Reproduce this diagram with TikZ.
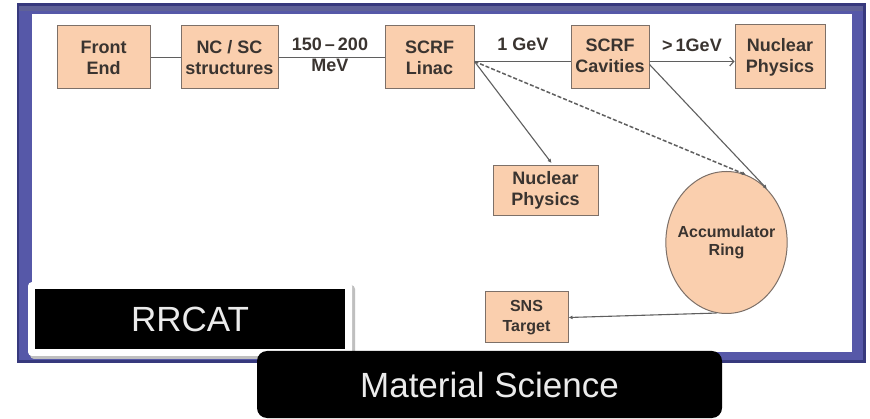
\documentclass[tikz,border=0pt]{standalone}
\usepackage{fontspec}
\setmainfont{Liberation Sans}
\usetikzlibrary{arrows.meta,calc,shapes.geometric}
\definecolor{peach}{RGB}{250,207,174}
\definecolor{boxline}{RGB}{125,112,104}
\definecolor{frameblue}{RGB}{86,88,168}
\definecolor{framedark}{RGB}{55,57,125}
\definecolor{wire}{RGB}{95,95,95}
\definecolor{txt}{RGB}{58,52,48}
\tikzset{
    every node/.style={font=\fontsize{18}{21}\selectfont\bfseries, text=txt,
        align=center, inner sep=0pt}
}
\tikzset{
    blk/.style={rectangle, draw=boxline, fill=peach, line width=1pt},
    lbl/.style={fill=none, draw=none},
    tag/.style={fill=black, text=black!8, font=\fontsize{35}{40}\selectfont}
}
\tikzset{
    wire/.style={draw=wire, line width=1.1pt},
    dot/.style={-{Latex[length=4pt,width=4pt]}}
}

\begin{document}
\begin{tikzpicture}[x=1pt, y=-1pt]
  \useasboundingbox (0,0) rectangle (870,419);
  % frame
  \fill[framedark] (17,3) rectangle (866,363);
  \fill[frameblue] (19,6) rectangle (863,360);
  \fill[framedark!80] (19,6) rectangle (863,11);
  \fill[white] (32,14) rectangle (852,352);

  \node (fe) [blk, minimum width=93, minimum height=63] at (103.5, 57.5) {Front\\End};
  \node (ncsc) [blk, minimum width=97, minimum height=63] at (229.5, 57.5) {NC / SC\\structures};
  \node (linac) [blk, minimum width=89, minimum height=63] at (429.5, 57.5) {SCRF\\Linac};
  \node (cav) [blk, minimum width=78, minimum height=63] at (610, 57.5)
    {\raisebox{-5pt}{\begin{tabular}{@{}c@{}}SCRF\\Cavities\end{tabular}}};
  \node (np1) [blk, minimum width=90, minimum height=64] at (780, 57) {Nuclear\\Physics};

  \node (np2) [blk, minimum width=105, minimum height=50] at (545.5, 190.5) {Nuclear\\Physics};
  \node (ring) [ellipse, draw=boxline, fill=peach, line width=1pt, inner sep=-6pt,
    minimum width=121, minimum height=142,
    font=\fontsize{16}{18}\selectfont\bfseries] at (726.5, 242.5) {Accumulator\\Ring};
  \node (sns) [blk, minimum width=83, minimum height=51,
    font=\fontsize{16}{20}\selectfont\bfseries] at (526.5, 317.5) {SNS\\Target};

  \node (e1) [lbl] at (330, 55) {150\,--\,200\\MeV};
  \node (e2) [lbl] at (523, 44) {1 GeV};
  \node (e3) [lbl] at (692, 45) {>\,1GeV};

  \coordinate (lx) at ($(linac.east)+(0,4)$);

  \draw[wire] (fe) -- (ncsc);
  \draw[wire] (ncsc) -- (linac);
  \draw[wire] (lx) -- (lx -| cav.west);
  \draw[wire, -{Straight Barb[length=4pt,width=9pt]}] (lx -| cav.east) -- (lx -| np1.west);
  \draw[wire, dot] (lx) -- ($(np2.north)+(6,-2)$);
  \draw[wire, dot, line width=1.5pt, dash pattern=on 4pt off 2pt] (lx) -- (ring.74);
  \draw[wire, dot] (cav.-10) -- (ring.53);
  \draw[wire, dot] (ring.-98) -- (sns.east);

  % tags
  \fill[black!25, rounded corners=4pt] (30,285) rectangle (355,359);
  \fill[white, rounded corners=4pt] (28,282) rectangle (352,356);
  \node (rrcat) [tag, minimum width=310, minimum height=60] at (190, 319) {RRCAT};
  \node (matsci) [tag, rounded corners=10pt, minimum width=465, minimum height=67] at (489.5, 384.5) {Material Science};
\end{tikzpicture}
\end{document}
